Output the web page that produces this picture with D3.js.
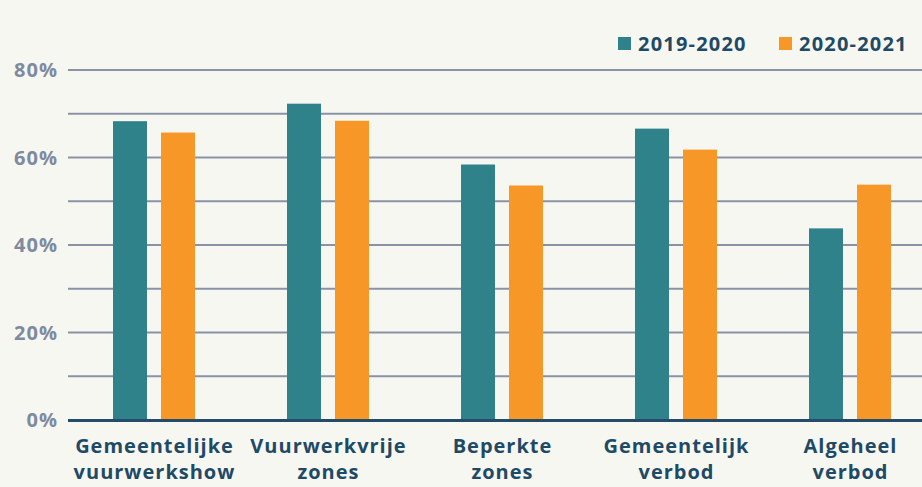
<!DOCTYPE html>
<html><head><meta charset="utf-8">
<script src="https://cdn.jsdelivr.net/npm/d3@7"></script>
<style>
html,body{margin:0;padding:0;background:#f7f7f2;}
svg{display:block;font-family:"Open Sans",sans-serif;}
</style></head>
<body><svg id="c" width="922" height="487"></svg>
<script>
const categories = [["Gemeentelijke","vuurwerkshow"],["Vuurwerkvrije","zones"],["Beperkte","zones"],["Gemeentelijk","verbod"],["Algeheel","verbod"]];
const seriesNames = ["2019-2020","2020-2021"];
const values2019 = [68.3, 72.3, 58.4, 66.6, 43.8];
const values2020 = [65.7, 68.4, 53.6, 61.8, 53.8];
const yTicks = [0, 20, 40, 60, 80];
const colors = ["#2f828a", "#f79727"];

const svg = d3.select("#c");
const W = 922, H = 487;
svg.append("rect").attr("width", W).attr("height", H).attr("fill", "#f7f7f2");

const keys = categories.map(c => c.join(" "));
const x0 = d3.scaleBand().domain(keys).range([67, 937]).paddingInner(0).paddingOuter(0);
const x1 = d3.scaleBand().domain(seriesNames).range([-41, 41]).paddingInner(0.2917);
const y = d3.scaleLinear().domain([0, 80]).range([420, 70]);

// grid lines every 10%
const grid = d3.range(10, 81, 10);
svg.append("g").selectAll("line").data(grid).join("line")
  .attr("x1", 68).attr("x2", W)
  .attr("y1", d => y(d)).attr("y2", d => y(d))
  .attr("stroke", "#8a93a6").attr("stroke-width", 2);

// y labels
svg.append("g").selectAll("text").data(yTicks).join("text")
  .attr("x", 58).attr("y", d => y(d)).attr("dy", "0.36em")
  .attr("text-anchor", "end").attr("letter-spacing", 1)
  .attr("fill", "#7f8a9e").attr("font-size", 20).attr("font-weight", 700)
  .text(d => d + "%");

// bars
const data = keys.map((k, i) => ({k, v: [values2019[i], values2020[i]]}));
const groups = svg.append("g").selectAll("g").data(data).join("g")
  .attr("transform", d => `translate(${x0(d.k) + x0.bandwidth()/2},0)`);
groups.selectAll("rect").data(d => d.v.map((v, j) => ({s: seriesNames[j], v, j}))).join("rect")
  .attr("x", d => x1(d.s)).attr("width", x1.bandwidth())
  .attr("y", d => y(d.v)).attr("height", d => y(0) - y(d.v))
  .attr("fill", d => colors[d.j]);

// baseline
svg.append("line").attr("x1", 68).attr("x2", W).attr("y1", y(0)+0.5).attr("y2", y(0)+0.5)
  .attr("stroke", "#244b6a").attr("stroke-width", 3);

// x labels
const xl = svg.append("g").selectAll("text").data(categories).join("text")
  .attr("text-anchor", "middle").attr("letter-spacing", 1)
  .attr("fill", "#1f4a66").attr("font-size", 20).attr("font-weight", 700);
xl.each(function(d, i) {
  const t = d3.select(this);
  const cx = x0(keys[i]) + x0.bandwidth()/2 + 0.5;
  d.forEach((line, li) => {
    t.append("tspan").attr("x", cx).attr("y", 453 + li*26).text(line);
  });
});

// legend
const leg = [{x: 618, tx: 638}, {x: 779, tx: 799}];
seriesNames.forEach((s, i) => {
  svg.append("rect").attr("x", leg[i].x).attr("y", 37).attr("width", 13).attr("height", 13).attr("fill", colors[i]);
  svg.append("text").attr("x", leg[i].tx).attr("y", 51).attr("letter-spacing", 1.2)
    .attr("fill", "#1f4a66").attr("font-size", 20).attr("font-weight", 700).text(s);
});
</script></body></html>
